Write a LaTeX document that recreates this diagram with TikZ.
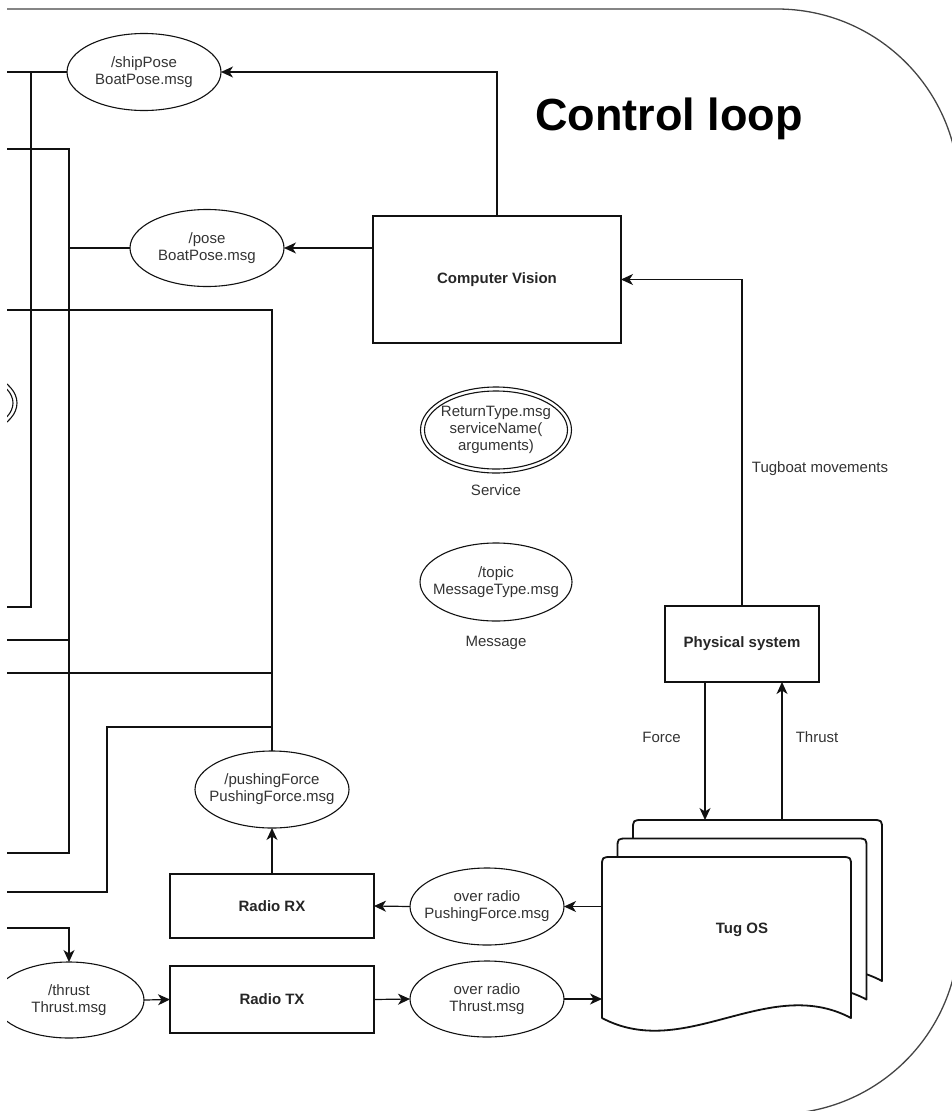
\documentclass[tikz,border=0pt]{standalone}
\usepackage{fontspec}
\setmainfont{Liberation Sans}
\usetikzlibrary{shapes.geometric,arrows.meta}
\definecolor{txt}{HTML}{333333}
\definecolor{lin}{HTML}{111111}
\definecolor{frm}{HTML}{444444}
\newcommand\tugsheetpath{(602,1018) -- (602,867) .. controls (602,857) .. (612,857) -- (841,857) .. controls (851,857) .. (851,867) -- (851,1018) .. controls (768,974) and (685,1062) .. (602,1018) -- cycle}
\begin{document}
\begin{tikzpicture}[x=1pt,y=-1pt,
  font=\fontsize{15}{17}\selectfont, text=txt,
  every node/.style={inner sep=0pt, outer sep=0pt},
  ln/.style={draw=lin, line width=1.2pt},
  arr/.style={ln, -{Stealth[length=12pt,width=11pt,inset=3.5pt]}},
  msg/.style={ellipse, draw=lin, line width=1.1pt, minimum width=154pt, minimum height=77pt, inner xsep=-20pt, align=center, fill=white},
  box/.style={rectangle, draw=lin, line width=1.1pt, align=center, font=\fontsize{15}{17}\selectfont\bfseries, text=black!85},
  bold/.style={font=\fontsize{15}{17}\selectfont\bfseries, text=black!85},
  doc/.style={draw=lin, line width=1.8pt, fill=white, line join=round}
]
\useasboundingbox (0,0) rectangle (952,1111);
\clip (7,0) rectangle (952,1111);

% frame
\draw[draw=frm, line width=1.3pt, rounded corners=182pt] (0,9) -- (959,9) -- (959,1114) -- (0,1114);

% title
\node[font=\fontsize{45}{50}\selectfont\bfseries, text=black, anchor=base] (title) at (669,130) {Control loop};

% nodes
\node[msg] (ship) at (144,72) {/shipPose\\BoatPose.msg};
\node[msg] (pose) at (207,248) {/pose\\BoatPose.msg};
\node[box, minimum width=248pt, minimum height=127pt] (cv) at (497,279.5) {Computer Vision};
\node[box, minimum width=154pt, minimum height=76pt] (phys) at (742,644) {Physical system};

\node[msg, minimum width=151pt, minimum height=86pt] (svc) at (496,430) {ReturnType.msg\\serviceName(\\arguments)};
\draw[draw=lin, line width=1.1pt] (svc.center) ellipse [x radius=71.5, y radius=39];
\node (svclbl) at (496,490) {Service};
\node[msg, minimum width=152pt, minimum height=78pt] (mt) at (496,582) {/topic\\MessageType.msg};
\node (mtlbl) at (496,643) {Message};

% partial service at left edge
\node[ellipse, draw=lin, line width=1.1pt, minimum width=154pt, minimum height=77pt] (svcleft) at (-60,403) {};
\draw[draw=lin, line width=1.1pt] (svcleft.center) ellipse [x radius=73, y radius=34.5];

\node[msg] (pf) at (272,789.5) {/pushingForce\\PushingForce.msg};
\node[box, minimum width=204pt, minimum height=64pt] (rrx) at (272,906) {Radio RX};
\node[box, minimum width=204pt, minimum height=67pt] (rtx) at (272,999.5) {Radio TX};
\node[msg] (orpf) at (487,906.5) {over radio\\PushingForce.msg};
\node[msg, minimum height=76pt] (ort) at (487,999) {over radio\\Thrust.msg};
\node[msg, minimum width=150pt, minimum height=76pt] (thr) at (69,1000) {/thrust\\Thrust.msg};

% Tug OS multi-document
\begin{scope}[shift={(31,-37)}]
  \draw[doc] \tugsheetpath;
\end{scope}
\begin{scope}[shift={(15.5,-18.5)}]
  \draw[doc] \tugsheetpath;
\end{scope}
\draw[doc] \tugsheetpath;
\node[minimum width=249pt, minimum height=161pt] (tug) at (726.5,937.5) {};
\node[bold] (tuglbl) at (742,930) {Tug OS};
\coordinate (tugtop) at (742,820);

% labels
\node (lforce) at (661.5,737) {Force};
\node (lthrust) at (817,737) {Thrust};
\node (lmove) at (820,469) {Tugboat movements};

% connectors right side
\draw[arr] (cv.north) |- (ship.east);
\draw[arr] (cv.west |- pose.east) -- (pose.east);
\draw[arr] (phys.north) |- (cv.east);
\coordinate (fo1) at ([xshift=-37pt]phys.south);
\coordinate (th1) at ([xshift=40pt]phys.south);
\draw[arr] (fo1) -- (fo1 |- tugtop);
\draw[arr] (th1 |- tugtop) -- (th1);
\draw[arr] (ort.east) -- (ort.east -| tug.west);
\draw[arr] (orpf.east -| tug.west) -- (orpf.east);
\draw[arr] (orpf.west) -- (rrx.east);
\draw[arr] (rtx.east) -- (ort.west);
\draw[arr] (thr.east) -- (rtx.west);
\draw[arr] (rrx.north) -- (pf.south);

% connectors left side
\coordinate (a1) at (7,72);
\coordinate (a2) at (31,72);
\coordinate (a3) at (7,607);
\draw[ln] (ship.west) -- (a1);
\draw[ln] (a2) |- (a3);

\coordinate (b1) at (69,248);
\coordinate (b2) at (7,149);
\coordinate (b3) at (7,853);
\coordinate (b4) at (7,640);
\draw[ln] (pose.west) -- (b1);
\draw[ln] (b2) -| (b1);
\draw[ln] (b1) |- (b3);
\draw[ln] (b4) -- (b4 -| b1);

\coordinate (c1) at (7,310);
\coordinate (c2) at (7,673);
\coordinate (c3) at (107,727);
\coordinate (c4) at (7,892);
\draw[ln] (pf.north) |- (c1);
\draw[ln] (c2) -- (c2 -| pf.north);
\draw[ln] (c3 -| pf.north) -- (c3) |- (c4);

\coordinate (d1) at (7,928);
\draw[arr] (d1) -| (thr.north);
\end{tikzpicture}
\end{document}
